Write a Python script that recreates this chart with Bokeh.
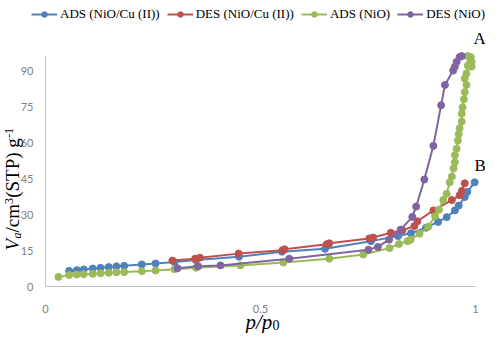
import math
from bokeh.plotting import figure
from bokeh.models import Range1d, FixedTicker, Label, Legend, LegendItem
from bokeh.embed import file_html
from bokeh.resources import INLINE

# ---------------- data ----------------
ads_cu_x = [0.055, 0.073, 0.089, 0.11, 0.128, 0.147, 0.165, 0.183, 0.224, 0.256, 0.30, 0.35,
            0.45, 0.55, 0.65, 0.757, 0.82, 0.85, 0.885, 0.913, 0.933, 0.952, 0.961, 0.975, 0.981, 0.998]
ads_cu_y = [6.5, 6.8, 7.1, 7.5, 7.8, 8.1, 8.4, 8.6, 9.2, 9.6, 10.2, 11.0,
            12.4, 14.5, 15.7, 18.9, 21.0, 22.2, 24.5, 26.9, 28.9, 31.7, 33.7, 37.3, 39.4, 43.4]

des_cu_x = [0.295, 0.348, 0.359, 0.449, 0.551, 0.556, 0.654, 0.66, 0.753, 0.762, 0.803, 0.83,
            0.858, 0.865, 0.902, 0.945, 0.963, 0.968, 0.975]
des_cu_y = [10.8, 11.6, 12.0, 13.7, 15.1, 15.5, 17.6, 18.0, 20.0, 20.4, 22.4, 23.4,
            25.2, 27.2, 31.7, 36.0, 38.0, 39.8, 43.0]

ads_nio_x = [0.03, 0.055, 0.073, 0.089, 0.11, 0.128, 0.147, 0.165, 0.183, 0.224, 0.256, 0.30, 0.35,
             0.453, 0.553, 0.66, 0.739, 0.80, 0.822, 0.842, 0.849, 0.87, 0.89, 0.906, 0.915, 0.925,
             0.933, 0.94, 0.945, 0.949, 0.952, 0.952, 0.956, 0.959, 0.961, 0.963, 0.968, 0.968,
             0.97, 0.973, 0.975, 0.979, 0.975, 0.979, 0.982, 0.982, 0.989, 0.991, 0.991]
ads_nio_y = [4.0, 4.8, 5.0, 5.1, 5.3, 5.5, 5.7, 5.9, 6.0, 6.4, 6.7, 7.2, 7.8,
             8.8, 10.0, 11.6, 13.3, 16.0, 17.7, 18.9, 19.5, 22.0, 24.9, 29.3, 32.0, 36.0,
             38.6, 43.4, 45.8, 49.2, 51.8, 54.7, 57.4, 60.8, 63.4, 65.9, 68.7, 72.0,
             74.7, 78.0, 81.0, 84.0, 86.7, 88.8, 92.0, 96.0, 95.6, 93.6, 91.6]

des_nio_x = [0.307, 0.355, 0.407, 0.567, 0.751, 0.773, 0.799, 0.826, 0.853, 0.862, 0.881, 0.902,
             0.92, 0.929, 0.948, 0.952, 0.956, 0.963, 0.968]
des_nio_y = [7.6, 8.4, 8.8, 11.6, 15.3, 16.5, 19.5, 23.7, 29.0, 33.3, 44.6, 58.6,
             75.5, 84.0, 90.0, 91.6, 93.6, 95.6, 96.0]

series_labels = ["ADS (NiO/Cu (II))", "DES (NiO/Cu (II))", "ADS (NiO)", "DES (NiO)"]
series_colors = ["#4F81BD", "#C0504D", "#9BBB59", "#8064A2"]
x_ticks = [0, 0.5, 1]
x_tick_labels = ["0", "0.5", "1"]
y_ticks = [0, 15, 30, 45, 60, 75, 90]

# ---------------- geometry (pixels) ----------------
W, H = 485, 333
X0PX, XPU = 45, 430.0      # x=0 at 45 px from frame left, px per unit
Y0PX, YPU = 47, 2.40       # y=0 at 47 px from frame bottom, px per unit

def xdat(px):   # px from canvas left -> data x
    return (px - X0PX) / XPU

def ydat(py):   # px from canvas top -> data y
    return (H - Y0PX - py) / YPU

p = figure(width=W, height=H, output_backend="svg", toolbar_location=None,
           x_range=Range1d(xdat(0), xdat(W)), y_range=Range1d(ydat(H), ydat(0)),
           min_border_left=0, min_border_right=0, min_border_top=0, min_border_bottom=0)
p.outline_line_color = None
p.xgrid.visible = False
p.ygrid.visible = False
p.background_fill_color = "white"

for ax in (p.xaxis, p.yaxis):
    ax.axis_line_color = "#BFBFBF"
    ax.axis_line_width = 1
    ax.major_tick_line_color = None
    ax.minor_tick_line_color = None
    ax.major_label_text_font = "Lato"
    ax.major_label_text_font_size = "11px"
    ax.major_label_text_color = "#7F7F7F"
    ax.fixed_location = 0

p.xaxis.ticker = FixedTicker(ticks=x_ticks)
p.xaxis.major_label_overrides = {t: l for t, l in zip(x_ticks, x_tick_labels)}
p.yaxis.ticker = FixedTicker(ticks=y_ticks)
p.xaxis.bounds = (0, 1)
p.yaxis.bounds = (0, 96)
p.xaxis.major_label_standoff = 12
p.yaxis.major_label_standoff = 6

all_series = [(ads_cu_x, ads_cu_y), (des_cu_x, des_cu_y), (ads_nio_x, ads_nio_y), (des_nio_x, des_nio_y)]
items = []
for (xs, ys), lab, col in zip(all_series, series_labels, series_colors):
    l = p.line(xs, ys, line_color=col, line_width=2)
    s = p.scatter(xs, ys, marker="circle", size=7, fill_color=col, line_color=col)
    items.append(LegendItem(label=lab, renderers=[l, s]))

legend = Legend(items=items, orientation="horizontal", location=(31, H - 22),
                label_text_font="Liberation Serif", label_text_font_size="13px",
                label_text_color="black", glyph_width=26, glyph_height=14, label_height=14,
                label_standoff=3, spacing=7, padding=2, margin=0,
                background_fill_alpha=0, border_line_color=None)
p.add_layout(legend)

# annotations A and B
p.add_layout(Label(x=xdat(473), y=ydat(38), text="A", text_font="Liberation Serif",
                   text_font_size="17px", text_baseline="middle", text_align="left",
                   text_color="black"))
p.add_layout(Label(x=xdat(474), y=ydat(165), text="B", text_font="Liberation Serif",
                   text_font_size="17px", text_baseline="middle", text_align="left",
                   text_color="black"))

# y axis title pieces (rotated), canvas px coordinates
ang = math.pi / 2
base = 250  # canvas y of the start (bottom) of the title
pieces = [  # text, offset along, canvas x, size, style
    ("V", 0.0, 12, "19px", "italic"),
    ("a", 11.9, 16, "12px", "italic"),
    ("/cm", 18.0, 12, "19px", "normal"),
    ("3", 46.5, 8, "12px", "normal"),
    ("(STP) g", 52.7, 12, "19px", "normal"),
    ("-1", 112.5, 8, "12px", "normal"),
]
for t, off, xp, sz, st in pieces:
    p.add_layout(Label(x=xdat(xp), y=ydat(base - off), text=t, angle=ang,
                       text_font="Liberation Serif", text_font_size=sz, text_font_style=st,
                       text_baseline="middle", text_align="left", text_color="black"))

# x axis title
p.add_layout(Label(x=xdat(245), y=ydat(321), text="p/p", text_font="Liberation Serif",
                   text_font_size="21px", text_font_style="italic", text_baseline="alphabetic",
                   text_align="left", text_color="black"))
p.add_layout(Label(x=xdat(272), y=ydat(324), text="0", text_font="Liberation Serif",
                   text_font_size="14px", text_baseline="alphabetic",
                   text_align="left", text_color="black"))

open("out.html", "w").write(file_html(p, INLINE))
